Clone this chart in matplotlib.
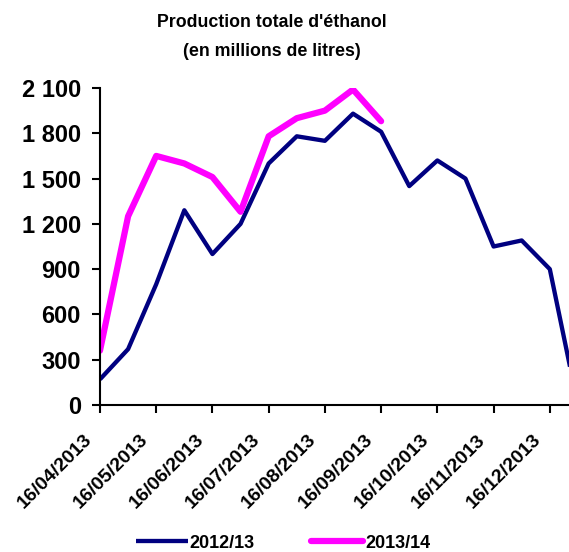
import matplotlib.pyplot as plt
import matplotlib.transforms as mtransforms

# half-monthly points starting 16/04
dates = ['16/04/2013', '16/05/2013', '16/06/2013', '16/07/2013', '16/08/2013',
         '16/09/2013', '16/10/2013', '16/11/2013', '16/12/2013']
prod_2012 = [170, 370, 800, 1290, 1000, 1200, 1600, 1780, 1750, 1930,
             1810, 1450, 1620, 1500, 1050, 1090, 900, 0]
prod_2013 = [360, 1250, 1650, 1600, 1510, 1280, 1780, 1900, 1950, 2090, 1880]

plt.rcParams['font.family'] = ['Liberation Sans', 'DejaVu Sans']
plt.rcParams['font.weight'] = 'bold'

fig = plt.figure(figsize=(5.69, 5.52), dpi=100)
ax = fig.add_axes([0.1757, 0.2663, 0.84, 0.5743])

ax.plot(range(len(prod_2012)), prod_2012, color='#000080', lw=3.1,
        label='2012/13', solid_capstyle='butt')
ax.plot(range(len(prod_2013)), prod_2013, color='#ff00ff', lw=4.5,
        label='2013/14', solid_capstyle='round')

ax.set_xlim(0, 17)
ax.set_ylim(0, 2100)
ax.set_yticks(range(0, 2101, 300))
ax.set_yticklabels([f'{v:,}'.replace(',', ' ') for v in range(0, 2101, 300)],
                   fontsize=17, fontweight='bold')
ax.set_xticks(range(0, 17, 2))
ax.set_xticklabels(dates, rotation=45, ha='right', rotation_mode='anchor',
                   fontsize=14, fontweight='bold')

for s in ['top', 'right']:
    ax.spines[s].set_visible(False)
for s in ['left', 'bottom']:
    ax.spines[s].set_linewidth(1.5)
ax.tick_params(direction='out', length=5.8, width=1.5)
ax.tick_params(axis='y', pad=8)
ax.tick_params(axis='x', pad=8)

# shift the slanted labels a bit left, like the original (after tick_params,
# which resets the label transforms)
shift = mtransforms.ScaledTranslation(-17 / 100, -7 / 100, fig.dpi_scale_trans)
for lab in ax.get_xticklabels():
    lab.set_transform(lab.get_transform() + shift)

fig.text(0.478, 0.975, "Production totale d'éthanol\n(en millions de litres)",
         ha='center', va='top', fontsize=12.8, fontweight='bold', linespacing=1.95)

fig.legend(loc='center', bbox_to_anchor=(0.497, 0.016), ncol=2, frameon=False,
           prop={'size': 13, 'weight': 'bold'}, handlelength=2.9,
           handletextpad=0.1, columnspacing=3.1, borderaxespad=0)

fig.savefig('out.png', dpi=100)
